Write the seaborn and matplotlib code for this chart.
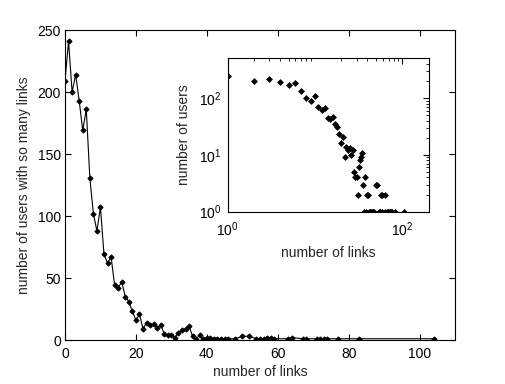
import matplotlib
matplotlib.use("Agg")
import matplotlib.pyplot as plt
import matplotlib.ticker as mticker
import seaborn as sns
import pandas as pd

# number of links (k) and number of users having k links
links = [0, 1, 2, 3, 4, 5, 6, 7, 8, 9, 10, 11, 12, 13, 14, 15, 16, 17, 18, 19,
         20, 21, 22, 23, 24, 25, 26, 27, 28, 29, 30, 31, 32, 33, 34, 35, 36, 37, 38,
         39, 40, 41, 42, 43, 44, 45, 46, 48, 50, 52, 54, 55, 56, 57, 58, 59,
         63, 64, 67, 68, 71, 72, 73, 74, 77, 83, 104]
users = [209, 241, 200, 214, 193, 169, 186, 131, 102, 88, 107, 69, 62, 67, 44, 42, 47, 35, 31, 23,
         16, 21, 9, 14, 12, 13, 10, 12, 5, 4, 4, 2, 6, 8, 9, 11, 3, 1, 4,
         1, 2, 2, 1, 1, 1, 1, 1, 1, 3, 3, 1, 1, 1, 2, 2, 1,
         1, 2, 1, 1, 1, 1, 1, 1, 1, 1, 1]

df = pd.DataFrame({"links": links, "users": users})
df_log = df[df["links"] > 0]

FS = 10

sns.set_theme(style="white")
plt.rcParams["font.family"] = ["Liberation Sans", "DejaVu Sans"]
plt.rcParams["font.size"] = FS
plt.rcParams["axes.edgecolor"] = "black"
plt.rcParams["axes.linewidth"] = 0.8

fig = plt.figure(figsize=(5.05, 3.84), dpi=100)
fig.patch.set_facecolor("white")

ax = fig.add_axes([65/505, 1-340/384, 390/505, 310/384])
sns.lineplot(data=df, x="links", y="users", ax=ax, color="black", linewidth=0.8,
             marker="D", markersize=2.6, markerfacecolor="black",
             markeredgecolor="black", estimator=None, sort=True)
ax.set_xlim(0, 110)
ax.set_ylim(0, 250)
ax.set_xticks([0, 20, 40, 60, 80, 100])
ax.set_yticks([0, 50, 100, 150, 200, 250])
ax.set_xlabel("number of links", fontsize=FS, labelpad=3)
ax.set_ylabel("number of users with so many links", fontsize=FS, labelpad=5)
ax.tick_params(direction="in", length=4, width=0.8, top=True, right=True,
               bottom=True, left=True, labelsize=FS, colors="black", pad=3)
ax.tick_params(axis="x", pad=5)
for s in ax.spines.values():
    s.set_visible(True)
    s.set_color("black")

ins = fig.add_axes([227.5/505, 1-211.7/384, 201/505, 153.4/384])
sns.scatterplot(data=df_log, x="links", y="users", ax=ins, color="black",
                marker="D", s=9, edgecolor="black", linewidth=0.5)
ins.set_xscale("log")
ins.set_yscale("log")
ins.set_xlim(1, 200)
ins.set_ylim(1, 500)
ins.xaxis.set_major_locator(mticker.FixedLocator([1, 100]))
ins.xaxis.set_minor_locator(mticker.LogLocator(base=10, subs=range(2, 10), numticks=10))
ins.xaxis.set_major_formatter(mticker.LogFormatterMathtext())
ins.xaxis.set_minor_formatter(mticker.NullFormatter())
ins.yaxis.set_major_locator(mticker.FixedLocator([1, 10, 100]))
ins.yaxis.set_minor_locator(mticker.LogLocator(base=10, subs=range(2, 10), numticks=10))
ins.yaxis.set_major_formatter(mticker.LogFormatterMathtext())
ins.yaxis.set_minor_formatter(mticker.NullFormatter())
ins.set_xlabel("number of links", fontsize=FS, labelpad=5)
ins.set_ylabel("number of users", fontsize=FS, labelpad=6)
ins.tick_params(which="major", direction="in", length=4, width=0.8, top=True, right=True,
                labelsize=FS, colors="black", pad=3)
ins.tick_params(axis="x", which="major", pad=6)
ins.tick_params(axis="y", which="major", pad=4)
ins.tick_params(which="minor", direction="in", length=2, width=0.6, top=True, right=True,
                colors="black")
for s in ins.spines.values():
    s.set_visible(True)
    s.set_color("black")

fig.savefig("out.png", dpi=100, facecolor="white")
